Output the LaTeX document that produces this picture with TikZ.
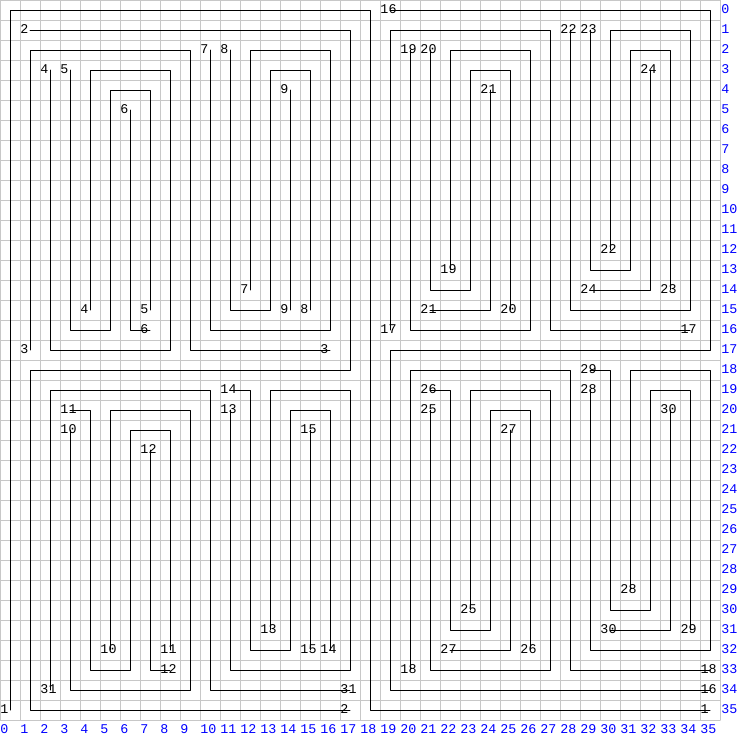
\documentclass[tikz,border=0pt]{standalone}
\usepackage{fontspec}
\newfontfamily\gridfont{Liberation Mono}
\begin{document}
\begin{tikzpicture}[x=5mm,y=-5mm,line join=round,line cap=round,
		wire/.style={line width=0.7pt,black},
		gridline/.style={line width=0.7pt,black!22},
		tag/.style={anchor=base west,inner sep=0pt,xshift=-2.5mm,yshift=-0.75mm,font=\gridfont\fontsize{9.5}{9.5}\selectfont},
		axis/.style={anchor=base west,inner sep=0pt,text=blue,font=\gridfont\fontsize{9.5}{9.5}\selectfont}]
			\useasboundingbox (-0.5,-0.5) rectangle (36.5,36.5);
			\foreach \i in {0,...,36}{
				\draw[gridline] (\i-0.5,-0.5)--(\i-0.5,35.5);
				\draw[gridline] (-0.5,\i-0.5)--(35.5,\i-0.5);
			}
			\foreach \i in {0,...,35}{
				\node[axis] (col-\i) at (\i-0.5,36.15) {\i};
				\node[axis] (row-\i) at (35.55,\i+0.15) {\i};
			}
			\draw[wire] (0,35)node[tag](p1s){1}--(0,0)--(18,0)--(18,35)--(35,35)node[tag](p1e){1};
			\draw[wire] (1,1)node[tag](p2s){2}--(17,1)--(17,18)--(1,18)--(1,35)--(17,35)node[tag](p2e){2};
			\draw[wire] (1,17)node[tag](p3s){3}--(1,2)--(9,2)--(9,17)--(16,17)node[tag](p3e){3};
			\draw[wire] (2,3)node[tag](p4s){4}--(2,17)--(8,17)--(8,3)--(4,3)--(4,15)node[tag](p4e){4};
			\draw[wire] (3,3)node[tag](p5s){5}--(3,16)--(5,16)--(5,4)--(7,4)--(7,15)node[tag](p5e){5};
			\draw[wire] (6,5)node[tag](p6s){6}--(6,16)--(7,16)node[tag](p6e){6};
			\draw[wire] (10,2)node[tag](p7s){7}--(10,16)--(16,16)--(16,2)--(12,2)--(12,14)node[tag](p7e){7};
			\draw[wire] (11,2)node[tag](p8s){8}--(11,15)--(13,15)--(13,3)--(15,3)--(15,15)node[tag](p8e){8};
			\draw[wire] (14,4)node[tag](p9s){9}--(14,15)node[tag](p9e){9};
			\draw[wire] (3,21)node[tag](p10s){10}--(3,34)--(9,34)--(9,20)--(5,20)--(5,32)node[tag](p10e){10};
			\draw[wire] (3,20)node[tag](p11s){11}--(4,20)--(4,33)--(6,33)--(6,21)--(8,21)--(8,32)node[tag](p11e){11};
			\draw[wire] (7,22)node[tag](p12s){12}--(7,33)--(8,33)node[tag](p12e){12};
			\draw[wire] (11,20)node[tag](p13s){13}--(11,33)--(17,33)--(17,19)--(13,19)--(13,31)node[tag](p13e){13};
			\draw[wire] (11,19)node[tag](p14s){14}--(12,19)--(12,32)--(14,32)--(14,20)--(16,20)--(16,32)node[tag](p14e){14};
			\draw[wire] (15,21)node[tag](p15s){15}--(15,32)node[tag](p15e){15};
			\draw[wire] (19,0)node[tag](p16s){16}--(35,0)--(35,17)--(19,17)--(19,34)--(35,34)node[tag](p16e){16};
			\draw[wire] (19,16)node[tag](p17s){17}--(19,1)--(27,1)--(27,16)--(34,16)node[tag](p17e){17};
			\draw[wire] (20,33)node[tag](p18s){18}--(20,18)--(28,18)--(28,33)--(35,33)node[tag](p18e){18};
			\draw[wire] (20,2)node[tag](p19s){19}--(20,16)--(26,16)--(26,2)--(22,2)--(22,13)node[tag](p19e){19};
			\draw[wire] (21,2)node[tag](p20s){20}--(21,14)--(23,14)--(23,3)--(25,3)--(25,15)node[tag](p20e){20};
			\draw[wire] (24,4)node[tag](p21s){21}--(24,15)--(21,15)node[tag](p21e){21};
			\draw[wire] (28,1)node[tag](p22s){22}--(28,15)--(34,15)--(34,1)--(30,1)--(30,12)node[tag](p22e){22};
			\draw[wire] (29,1)node[tag](p23s){23}--(29,13)--(31,13)--(31,2)--(33,2)--(33,14)node[tag](p23e){23};
			\draw[wire] (32,3)node[tag](p24s){24}--(32,14)--(29,14)node[tag](p24e){24};
			\draw[wire] (21,20)node[tag](p25s){25}--(21,33)--(27,33)--(27,19)--(23,19)--(23,30)node[tag](p25e){25};
			\draw[wire] (21,19)node[tag](p26s){26}--(22,19)--(22,31)--(24,31)--(24,20)--(26,20)--(26,32)node[tag](p26e){26};
			\draw[wire] (25,21)node[tag](p27s){27}--(25,32)--(22,32)node[tag](p27e){27};
			\draw[wire] (29,19)node[tag](p28s){28}--(29,32)--(35,32)--(35,18)--(31,18)--(31,29)node[tag](p28e){28};
			\draw[wire] (29,18)node[tag](p29s){29}--(30,18)--(30,30)--(32,30)--(32,19)--(34,19)--(34,31)node[tag](p29e){29};
			\draw[wire] (33,20)node[tag](p30s){30}--(33,31)--(30,31)node[tag](p30e){30};
			\draw[wire] (2,34)node[tag](p31s){31}--(2,19)--(10,19)--(10,34)--(17,34)node[tag](p31e){31};
		\end{tikzpicture}
\end{document}
